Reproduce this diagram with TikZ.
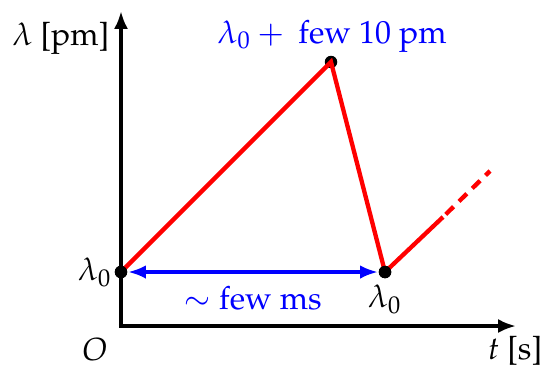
\documentclass[tikz,border=0pt]{standalone}
\usepackage[T1]{fontenc}
\usepackage{mathpazo}
\usetikzlibrary{arrows.meta}
\begin{document}
\begin{tikzpicture}[x=0.3125pt,y=-0.3125pt,
  axis/.style={line width=1.35pt,-{Latex[length=5.6pt,width=4.4pt]}},
  sig/.style={red,line width=1.35pt},
  dot/.style={circle,fill=black,inner sep=0pt,minimum size=3.9pt},
  lbl/.style={inner sep=0pt,font=\fontsize{10}{12}\selectfont},
  blbl/.style={lbl,text=blue}]
\useasboundingbox (0,0) rectangle (551,367);
\coordinate (O) at (121,326);
\coordinate (ytip) at (121,11);
\coordinate (xtip) at (516,326);
\node[dot] (a) at (121,272) {};
\node[dot] (p) at (331,62) {};
\node[dot] (b) at (385,272) {};
\coordinate (s) at (443,217);
\coordinate (e) at (490,171);
\draw[sig] (a.center) -- (p.center) -- (b.center) -- (s);
\draw[sig,dash pattern=on 3.4pt off 2.4pt,dash phase=-1.2pt] (s) -- (e);
\draw[blue,line width=1.35pt,{Latex[length=5.6pt,width=4.2pt]}-{Latex[length=5.6pt,width=4.2pt]}] (a) -- (b);
\draw[axis] (O) -- (ytip);
\draw[axis] ([xshift=-0.67pt]O) -- (xtip);
\node[dot] at (a) {};
\node[dot] at (b) {};
\node[lbl,anchor=east] (ylab) at (110,38) {$\lambda$ [pm]};
\node[blbl] (plab) at (332,36) {$\lambda_0 + {}$\ few 10 pm};
\node[lbl] (alab) at (95,272) {$\lambda_0$};
\node[blbl] (mlab) at (253,298) {$\sim$ few ms};
\node[lbl] (blab) at (385,299) {$\lambda_0$};
\node[lbl] (olab) at (95,350) {$O$};
\node[lbl] (tlab) at (515,351) {$t$ [s]};
\end{tikzpicture}
\end{document}
